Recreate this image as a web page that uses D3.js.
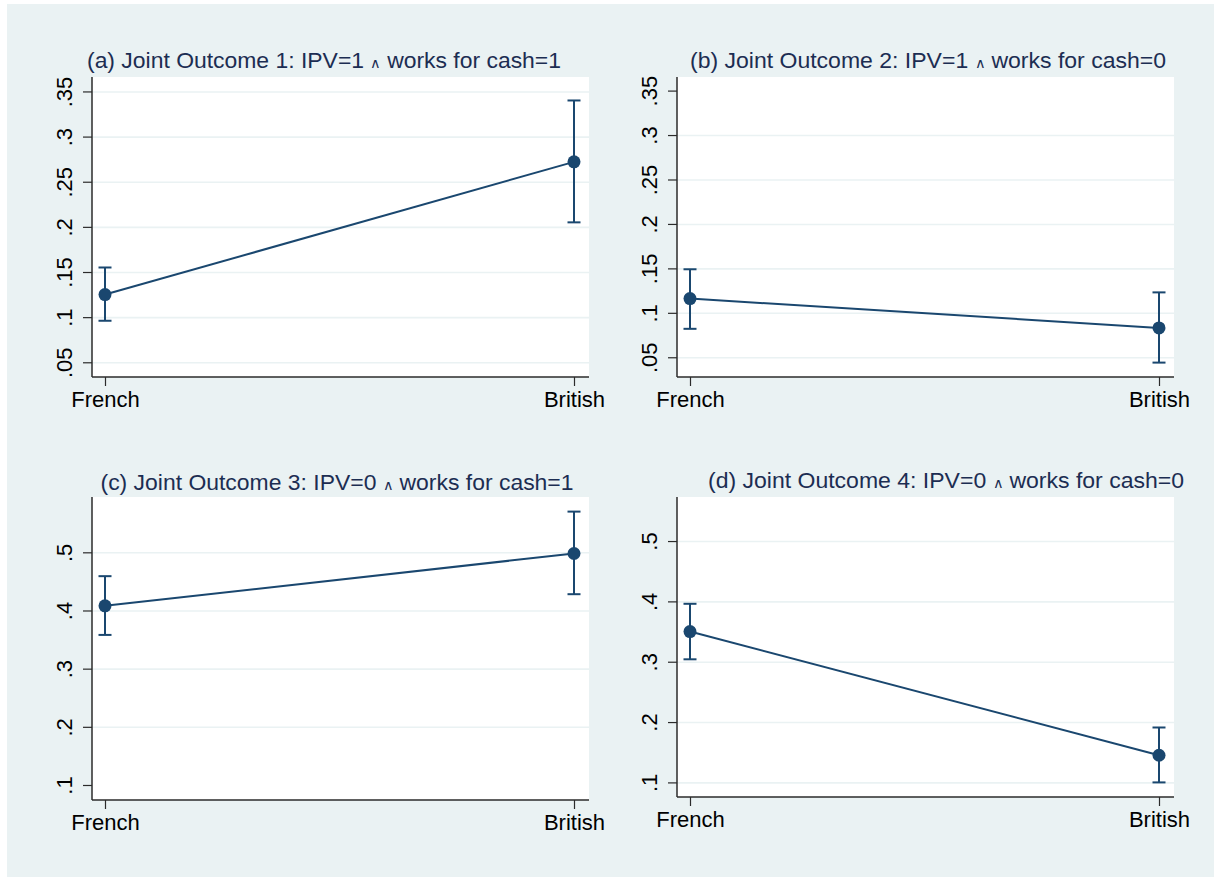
<!DOCTYPE html>
<html>
<head>
<meta charset="utf-8">
<script src="https://cdn.jsdelivr.net/npm/d3@7"></script>
<style>
  html, body { margin: 0; padding: 0; background: #ffffff; }
  svg { display: block; }
  text { font-family: "Liberation Sans", Arial, Helvetica, sans-serif; }
</style>
</head>
<body>
<svg id="chart" width="1214" height="877"></svg>
<script>
// ---------------- data ----------------
const categories = ["French", "British"];

const titles = [
  "(a) Joint Outcome 1: IPV=1 ",
  "(b) Joint Outcome 2: IPV=1 ",
  "(c) Joint Outcome 3: IPV=0 ",
  "(d) Joint Outcome 4: IPV=0 "
];
const titleTails = [
  " works for cash=1",
  " works for cash=0",
  " works for cash=1",
  " works for cash=0"
];

const estA = [0.125, 0.272];
const loA  = [0.096, 0.205];
const hiA  = [0.155, 0.340];

const estB = [0.116, 0.083];
const loB  = [0.082, 0.044];
const hiB  = [0.149, 0.123];

const estC = [0.408, 0.498];
const loC  = [0.358, 0.428];
const hiC  = [0.459, 0.570];

const estD = [0.350, 0.145];
const loD  = [0.304, 0.100];
const hiD  = [0.396, 0.191];

const ticksTop    = [0.05, 0.10, 0.15, 0.20, 0.25, 0.30, 0.35];
const tickLabelsTop = [".05", ".1", ".15", ".2", ".25", ".3", ".35"];
const ticksBottom = [0.1, 0.2, 0.3, 0.4, 0.5];
const tickLabelsBottom = [".1", ".2", ".3", ".4", ".5"];

const gridA = [0.05, 0.10, 0.15, 0.20, 0.25, 0.30, 0.35];
const gridB = [0.05, 0.10, 0.15, 0.20, 0.25, 0.30];
const gridC = [0.2, 0.3, 0.4, 0.5];
const gridD = [0.1, 0.2, 0.3, 0.4, 0.5];

// ---------------- layout ----------------
const BG = "#eaf2f3";
const NAVY = "#1a476f";
const TITLE_COLOR = "#1c2d52";

const panels = [
  { est: estA, lo: loA, hi: hiA, ticks: ticksTop, labels: tickLabelsTop, grid: gridA,
    left: 92, right: 589, top: 77, bottom: 377, ydom: [0.0337, 0.366], tx: 324, ty: 68, tw: 474 },
  { est: estB, lo: loB, hi: hiB, ticks: ticksTop, labels: tickLabelsTop, grid: gridB,
    left: 677, right: 1174, top: 77, bottom: 377, ydom: [0.0278, 0.3653], tx: 928, ty: 68, tw: 476 },
  { est: estC, lo: loC, hi: hiC, ticks: ticksBottom, labels: tickLabelsBottom, grid: gridC,
    left: 92, right: 589, top: 497, bottom: 800, ydom: [0.0742, 0.5951], tx: 337, ty: 490, tw: 473 },
  { est: estD, lo: loD, hi: hiD, ticks: ticksBottom, labels: tickLabelsBottom, grid: gridD,
    left: 677, right: 1174, top: 497, bottom: 797, ydom: [0.0758, 0.573], tx: 946, ty: 488, tw: 476 }
];

const svg = d3.select("#chart");

svg.append("rect")
  .attr("x", 7).attr("y", 4)
  .attr("width", 1214 - 7).attr("height", 877 - 4)
  .attr("fill", BG);

panels.forEach((p, i) => {
  const g = svg.append("g");
  const x = d3.scalePoint().domain(categories).range([p.left + 13, p.right - 15]);
  const y = d3.scaleLinear().domain(p.ydom).range([p.bottom, p.top]);

  // plot region
  g.append("rect")
    .attr("x", p.left).attr("y", p.top)
    .attr("width", p.right - p.left).attr("height", p.bottom - p.top)
    .attr("fill", "#ffffff");

  // gridlines
  g.append("g")
    .attr("transform", `translate(${p.left},0)`)
    .call(d3.axisLeft(y).tickValues(p.grid).tickSize(-(p.right - p.left)).tickFormat(""))
    .call(s => s.select(".domain").remove())
    .call(s => s.selectAll(".tick line").attr("stroke", BG).attr("stroke-width", 1.6));

  // y axis
  const yAxis = g.append("g")
    .attr("transform", `translate(${p.left},0)`)
    .call(d3.axisLeft(y).tickValues(p.ticks).tickSize(9).tickPadding(0)
      .tickFormat((d, k) => p.labels[k]));
  yAxis.select(".domain")
    .attr("d", `M0,${p.top}V${p.bottom}`)
    .attr("stroke", "#2b2b2b").attr("stroke-width", 1.5);
  yAxis.selectAll(".tick line").attr("stroke", "#2b2b2b").attr("stroke-width", 1.2);
  yAxis.selectAll(".tick text")
    .attr("x", null).attr("dy", null)
    .attr("transform", "translate(-20,0) rotate(-90)")
    .attr("text-anchor", "middle")
    .attr("fill", "#000")
    .style("font-size", "22px");

  // x axis
  const xAxis = g.append("g")
    .attr("transform", `translate(0,${p.bottom})`)
    .call(d3.axisBottom(x).tickSize(9).tickPadding(5));
  xAxis.select(".domain")
    .attr("d", `M${p.left},0H${p.right}`)
    .attr("stroke", "#2b2b2b").attr("stroke-width", 1.5);
  xAxis.selectAll(".tick line").attr("stroke", "#2b2b2b").attr("stroke-width", 1.2);
  xAxis.selectAll(".tick text")
    .attr("fill", "#000")
    .style("font-size", "22px");

  // connecting line
  g.append("path")
    .datum(categories.map((c, k) => [x(c), y(p.est[k])]))
    .attr("d", d3.line())
    .attr("fill", "none")
    .attr("stroke", NAVY)
    .attr("stroke-width", 2);

  // error bars
  const eb = g.append("g").attr("stroke", NAVY).attr("stroke-width", 2);
  categories.forEach((c, k) => {
    eb.append("line").attr("x1", x(c)).attr("x2", x(c))
      .attr("y1", y(p.lo[k])).attr("y2", y(p.hi[k]));
    eb.append("line").attr("x1", x(c) - 6.5).attr("x2", x(c) + 6.5)
      .attr("y1", y(p.lo[k])).attr("y2", y(p.lo[k]));
    eb.append("line").attr("x1", x(c) - 6.5).attr("x2", x(c) + 6.5)
      .attr("y1", y(p.hi[k])).attr("y2", y(p.hi[k]));
  });

  // markers
  g.selectAll("circle.pt")
    .data(categories)
    .enter().append("circle")
    .attr("class", "pt")
    .attr("cx", c => x(c))
    .attr("cy", (c, k) => y(p.est[k]))
    .attr("r", 6.5)
    .attr("fill", NAVY);

  // title
  const t = g.append("text")
    .attr("x", p.tx).attr("y", p.ty)
    .attr("text-anchor", "middle")
    .attr("fill", TITLE_COLOR)
    .style("font-size", "22px");
  t.append("tspan").text(titles[i]);
  t.append("tspan").style("font-size", "14px").text("\u2227");
  t.append("tspan").text(titleTails[i]);
  const w = t.node().getComputedTextLength();
  if (w > 0) {
    t.attr("textLength", p.tw).attr("lengthAdjust", "spacingAndGlyphs");
  }
});
</script>
</body>
</html>
